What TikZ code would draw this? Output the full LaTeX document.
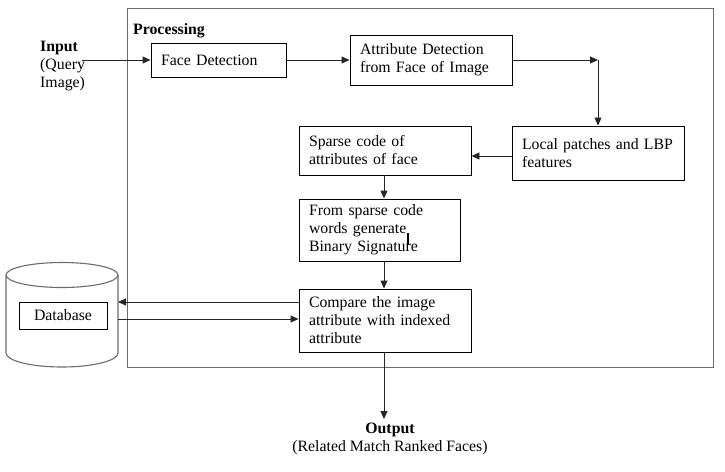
\documentclass[tikz,border=0pt]{standalone}
\usepackage{fontspec}
\setmainfont{Liberation Serif}
\usetikzlibrary{arrows.meta}
\begin{document}
\begin{tikzpicture}[x=1pt,y=-1pt,
  every node/.style={font=\fontsize{15.8pt}{18pt}\selectfont},
  box/.style={draw=black, line width=0.9pt, align=left, inner xsep=10pt, inner ysep=0pt, anchor=center},
  frame/.style={draw=gray!85!black, line width=1.3pt},
  arr/.style={line width=0.9pt, draw=black!85, -{Triangle[length=8pt,width=7pt]}},
  ln/.style={line width=0.9pt, draw=black!85}]
\useasboundingbox (0,0) rectangle (725,471);
% processing frame
\node[frame, minimum width=586pt, minimum height=359pt, anchor=north west, inner sep=0pt] (proc) at (127,8) {};
\node[anchor=base west, inner sep=0pt, font=\fontsize{15.8pt}{18pt}\selectfont\bfseries] (ptitle) at (133,34) {Processing};
% boxes
\node[box, minimum width=135pt, minimum height=34pt, text width=115pt] (fd) at (218.5,60) {Face Detection};
\node[box, minimum width=162pt, minimum height=50pt, text width=142pt] (attr) at (431,60) {Attribute Detection\\from Face of Image};
\node[box, minimum width=172pt, minimum height=54pt, text width=152pt] (local) at (598,153) {Local patches and LBP\\features};
\node[box, minimum width=172pt, minimum height=49pt, text width=152pt] (sparse) at (385,150.5) {Sparse code of\\attributes of face};
\node[box, minimum width=161pt, minimum height=62pt, text width=141pt] (from) at (379.5,230) {From sparse code\\words generate\\Binary Signature};
\node[box, minimum width=172pt, minimum height=63pt, text width=152pt] (comp) at (385,320.5) {Compare the image\\attribute with indexed\\attribute};
% cursor mark
\draw[line width=1.3pt] (408,233) -- (408,245);
% input
\node[anchor=west, align=left, inner sep=0pt] (inp) at (40,66) {\textbf{Input}\\(Query\\Image)};
\coordinate (inend) at (82,60);
% output
\node[anchor=north, align=center] (out) at (390,419) {\textbf{Output}\\(Related Match Ranked Faces)};
% database cylinder
\draw[frame, line width=1.1pt] (6,275) -- (6,353) arc[start angle=180, end angle=0, x radius=56, y radius=14] -- (118,275);
\draw[frame, line width=1.1pt] (62,275) ellipse[x radius=56, y radius=12.5];
\node[box, minimum width=88pt, minimum height=27pt, align=center, inner xsep=2pt] (db) at (63,315.5) {Database};
\coordinate (cylA) at (118,302);
\coordinate (cylB) at (118,319);
% connectors
\draw[arr] (inend) -- (fd.west);
\draw[arr] (fd.east) -- (attr.west);
\coordinate (turn) at (local.north |- attr.east);
\draw[arr] (attr.east) -- (turn);
\draw[arr] (turn) -- (local.north);
\draw[arr] ([yshift=-3pt]local.west) -- ([yshift=-3pt]local.west -| sparse.east);
\draw[arr] (sparse.south -| 384,0) -- (from.north -| 384,0);
\draw[arr] (from.south -| 384,0) -- (comp.north -| 384,0);
\draw[arr] (comp.west |- cylA) -- (cylA);
\draw[arr] (cylB) -- (comp.west |- cylB);
\draw[arr] (comp.south -| 384,0) -- (out.north -| 384,0);
\end{tikzpicture}
\end{document}
